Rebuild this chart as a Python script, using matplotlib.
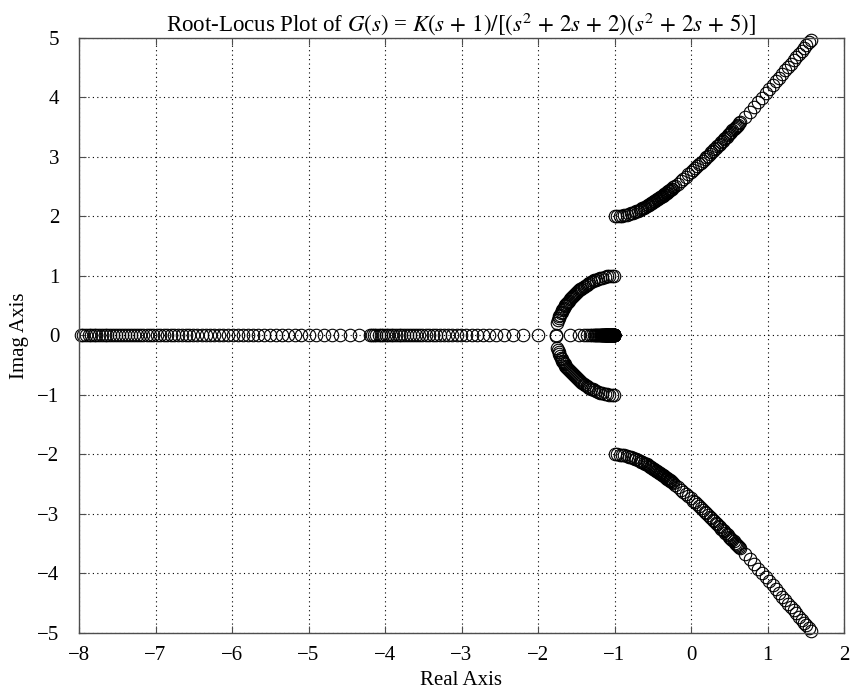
import numpy as np
import matplotlib
matplotlib.use('Agg')
import matplotlib.pyplot as plt

plt.rcParams['font.family'] = ['Liberation Serif', 'DejaVu Serif']
plt.rcParams['mathtext.fontset'] = 'stix'

# G(s) = K(s+1)/[(s^2+2s+2)(s^2+2s+5)]
num = [1, 1]
den = [1, 4, 11, 14, 10]

# gain values used for the locus (as in the original gain vector)
K1 = np.arange(0, 9.0001, 0.2)
K2 = [9.5]
K3 = np.arange(10, 50.0001, 1)
K4 = np.arange(55, 400.0001, 5)
K = np.concatenate([K1, K2, K3, K4])

xlim = [-8, 2]
ylim = [-5, 5]
xticks = list(range(-8, 3))
yticks = list(range(-5, 6))

numpad = np.concatenate([np.zeros(len(den) - len(num)), num])
r = np.array([np.roots(np.array(den) + k * numpad) for k in K]).ravel()
# keep roots inside the plotted window
inside = (r.real >= xlim[0] - 1e-3) & (r.real <= xlim[1]) & \
         (np.abs(r.imag) <= ylim[1] + 1e-3)
r = r[inside]

fig = plt.figure(figsize=(8.5, 6.92), dpi=100)
ax = fig.add_axes([79/850, 1 - 633/692, (844 - 79)/850, (633 - 37.7)/692])

ax.plot(r.real, r.imag, 'o', mfc='none', mec='k', ms=9, mew=0.8, clip_on=False)

ax.set_xlim(xlim)
ax.set_ylim(ylim)
ax.set_xticks(xticks)
ax.set_yticks(yticks)
ax.grid(True, color='k', linestyle=(0, (1, 3)), linewidth=0.8)
ax.tick_params(direction='in', top=True, right=True, length=5, labelsize=15, color='0.3')
ax.tick_params(axis='x', pad=9)
ax.tick_params(axis='y', pad=14)
for s in ax.spines.values():
    s.set_color('0.3')
    s.set_linewidth(1.0)

sp = r'\,'
ax.set_title('Root-Locus Plot of $G(s)$ = $K(s' + sp + '+' + sp + '1)/[(s^2' + sp + '+' + sp + '2s'
             + sp + '+' + sp + '2)(s^2' + sp + '+' + sp + '2s' + sp + '+' + sp + '5)]$',
             fontsize=16.5, pad=5)
ax.set_xlabel('Real Axis', fontsize=15, labelpad=5)
ax.set_ylabel('Imag Axis', fontsize=15, labelpad=6)

plt.savefig('out.png', dpi=100)
